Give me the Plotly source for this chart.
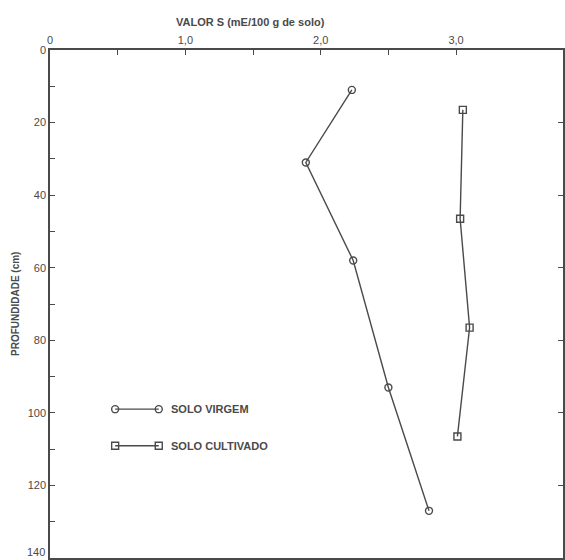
import plotly.graph_objects as go

# ---- data ----
depth_virgem = [11, 31, 58, 93, 127]
valor_virgem = [2.23, 1.89, 2.24, 2.50, 2.80]
depth_cultivado = [16.5, 46.5, 76.5, 106.5]
valor_cultivado = [3.05, 3.03, 3.10, 3.01]

series_names = ["SOLO VIRGEM", "SOLO CULTIVADO"]

x_tickvals = [0, 0.5, 1.0, 1.5, 2.0, 2.5, 3.0]
x_ticktext = ["0", "", "1,0", "", "2,0", "", "3,0"]
y_tickvals = list(range(0, 141, 10))
# the last label (140) sits on the page edge; it is drawn separately below
y_ticktext = [str(v) if (v % 20 == 0 and v < 140) else "" for v in y_tickvals]
y_last_label = "140"
y_right_tickvals = list(range(20, 121, 20))

# ---- styling ----
INK = "#4a4a4a"
FONT = "Liberation Sans"
W, H = 565, 560
ML, MR, MT, MB = 50, 2, 50, 2
PW, PH = W - ML - MR, H - MT - MB

fig = go.Figure()

fig.add_trace(go.Scatter(
    x=valor_virgem, y=depth_virgem, mode="lines+markers", name=series_names[0],
    line=dict(color=INK, width=1.4),
    marker=dict(symbol="circle-open", size=7, color=INK, line=dict(width=1.4)),
    showlegend=False))
fig.add_trace(go.Scatter(
    x=valor_cultivado, y=depth_cultivado, mode="lines+markers", name=series_names[1],
    line=dict(color=INK, width=1.4),
    marker=dict(symbol="square-open", size=7, color=INK, line=dict(width=1.4)),
    showlegend=False))

# ---- hand-drawn style legend on an overlay axis (plot-fraction coords) ----
leg_x0, leg_x1, leg_tx = 0.127, 0.212, 0.232
leg_rows = [0.293, 0.221]
leg_symbols = ["circle-open", "square-open"]
for name, ry, sym in zip(series_names, leg_rows, leg_symbols):
    fig.add_trace(go.Scatter(
        x=[leg_x0, leg_x1], y=[ry, ry], xaxis="x2", yaxis="y2",
        mode="lines+markers", line=dict(color=INK, width=1.4),
        marker=dict(symbol=sym, size=7, color=INK, line=dict(width=1.4)),
        showlegend=False, hoverinfo="skip"))
    fig.add_annotation(x=leg_tx, y=ry, xref="x2", yref="y2", text="<b>" + name + "</b>",
                       showarrow=False, xanchor="left", yanchor="middle",
                       font=dict(family=FONT, size=11, color=INK))

axis_common = dict(showgrid=False, zeroline=False, showline=True, linecolor=INK,
                   linewidth=1.5, ticks="inside", ticklen=5, tickwidth=1.3,
                   tickcolor=INK, ticklabeloverflow="allow", automargin=False,
                   tickfont=dict(family=FONT, size=11, color=INK))

fig.update_layout(
    width=W, height=H,
    margin=dict(l=ML, r=MR, t=MT, b=MB, autoexpand=False),
    paper_bgcolor="white", plot_bgcolor="white",
    xaxis=dict(range=[0, 3.79], side="top", tickmode="array", mirror=True,
               tickvals=x_tickvals, ticktext=x_ticktext, **axis_common),
    yaxis=dict(range=[140, 0], tickmode="array",
               tickvals=y_tickvals, ticktext=y_ticktext, **axis_common),
    xaxis2=dict(range=[0, 1], overlaying="x", visible=False),
    yaxis2=dict(range=[0, 1], overlaying="y", visible=False),
    yaxis3=dict(range=[140, 0], overlaying="y", side="right", tickmode="array",
                tickvals=y_right_tickvals, showticklabels=False, automargin=False,
                showgrid=False, zeroline=False, showline=True, linecolor=INK,
                linewidth=1.5, ticks="inside", ticklen=5, tickwidth=1.3,
                tickcolor=INK),
)
# invisible helper trace to activate the right-hand axis
fig.add_trace(go.Scatter(x=[None], y=[None], yaxis="y3", showlegend=False,
                         hoverinfo="skip"))

# bottom y label, kept inside the page
fig.add_annotation(x=0, y=0, xref="paper", yref="paper", text=y_last_label,
                   showarrow=False, xanchor="right", yanchor="bottom",
                   xshift=-3, yshift=-2,
                   font=dict(family=FONT, size=11, color=INK))

fig.add_annotation(x=(250 - ML) / PW, y=1 + (MT - 22) / PH, xref="paper", yref="paper",
                   text="<b>VALOR S (mE/100 g de solo)</b>", showarrow=False,
                   xanchor="center", yanchor="middle",
                   font=dict(family=FONT, size=11, color=INK))
fig.add_annotation(x=-(ML - 15) / PW, y=0.5, xref="paper", yref="paper",
                   text="<b>PROFUNDIDADE (cm)</b>", showarrow=False, textangle=-90,
                   xanchor="center", yanchor="middle",
                   font=dict(family=FONT, size=10, color=INK))

fig.write_html(
    "out.html",
    config={"displayModeBar": False},
    post_script="document.body.style.margin='0';"
                "document.documentElement.style.overflow='hidden';"
                "document.body.style.overflow='hidden';",
)
